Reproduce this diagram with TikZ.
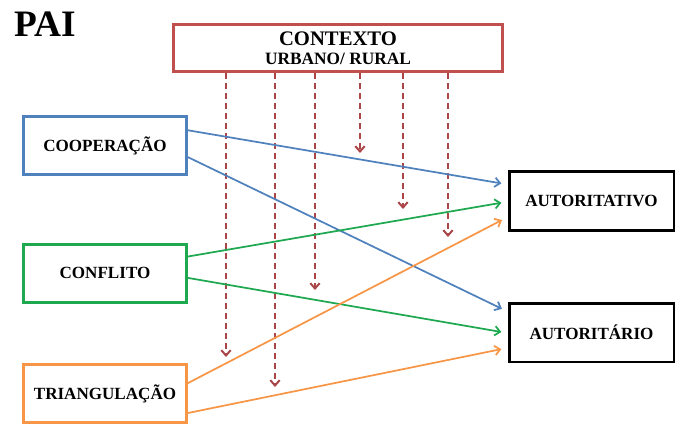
\documentclass[tikz,border=0pt]{standalone}
\usepackage{fontspec}
\setmainfont{Liberation Serif}
\usetikzlibrary{arrows.meta,calc}
\definecolor{ctxred}{RGB}{192,80,77}
\definecolor{dashred}{RGB}{170,70,72}
\definecolor{coopblue}{RGB}{79,129,189}
\definecolor{confgreen}{RGB}{30,168,80}
\definecolor{triorange}{RGB}{247,150,70}
\begin{document}
\begin{tikzpicture}[x=0.75pt, y=-0.75pt,
  every node/.style={font=\bfseries\fontsize{12.8}{15}\selectfont, inner sep=0pt},
  leftbox/.style={draw=#1, line width=2.25pt, minimum width=122pt, minimum height=43.5pt},
  rightbox/.style={draw, line width=1.9pt, minimum width=123.4pt, minimum height=43.9pt},
  ctxbox/.style={draw=ctxred, line width=2.25pt, minimum width=246.75pt, minimum height=35.25pt, align=center},
  link/.style={draw=#1, line width=1.3pt, shorten >=5pt, -{Straight Barb[length=4pt,width=7pt]}},
  ctxarrow/.style={draw=dashred, line width=1.5pt, dash pattern=on 4.5pt off 3pt, -{Straight Barb[length=4pt,width=7pt]}}]
  \useasboundingbox (0,0) rectangle (681,426);
  \node[anchor=base west, font=\bfseries\fontsize{28}{32}\selectfont] (pai) at (14,36) {PAI};
  \node[ctxbox] (ctx) at (338,48) {{\fontsize{15.5}{17}\selectfont CONTEXTO}\\[-0.5pt]{\fontsize{13}{14}\selectfont URBANO/ RURAL}};
  \node[leftbox=coopblue] (coop) at (105,145.5) {COOPERAÇÃO};
  \node[leftbox=confgreen] (conf) at (105,273) {CONFLITO};
  \node[leftbox=triorange] (tri) at (105,393.5) {TRIANGULAÇÃO};
  \node[rightbox] (autv) at (591.5,201) {AUTORITATIVO};
  \node[rightbox] (autr) at (591.5,332.5) {AUTORITÁRIO};
  \foreach \x/\y in {226/357, 275/387, 315/290, 360/153, 403/209, 448/237} {
    \coordinate (end) at (\x,\y);
    \draw[ctxarrow] (ctx.south -| end) -- (end);
  }
  \foreach \a/\fa/\b/\fb/\c in {coop/.25/autv/.23/coopblue, coop/.69/autr/.16/coopblue,
      conf/.23/autv/.51/confgreen, conf/.58/autr/.51/confgreen,
      tri/.33/autv/.76/triorange, tri/.82/autr/.75/triorange}
    \draw[link=\c] ($(\a.north east)!\fa!(\a.south east)$) -- ($(\b.north west)!\fb!(\b.south west)$);
\end{tikzpicture}
\end{document}
